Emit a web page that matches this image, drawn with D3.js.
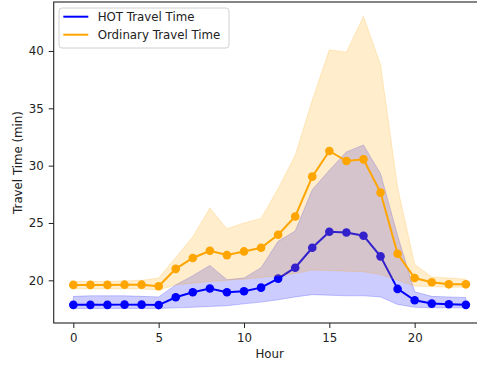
<!DOCTYPE html>
<html>
<head>
<meta charset="utf-8">
<script src="https://cdn.jsdelivr.net/npm/d3@7"></script>
<style>
  body { margin: 0; background: #fff; }
  svg text { font-family: "DejaVu Sans", sans-serif; fill: #222; }
</style>
</head>
<body>
<div id="chart"></div>
<script>
// hourly travel time, mean and min/max band for each lane type
const hours = [0,1,2,3,4,5,6,7,8,9,10,11,12,13,14,15,16,17,18,19,20,21,22,23];
const hotMean = [17.86,17.86,17.86,17.88,17.88,17.84,18.52,18.96,19.28,18.96,19.05,19.36,20.15,21.1,22.84,24.23,24.17,23.89,22.09,19.25,18.26,17.97,17.91,17.86];
const hotMin  = [17.55,17.55,17.55,17.55,17.55,17.55,17.6,17.65,17.72,17.78,17.95,18.1,18.3,18.55,18.75,18.7,18.65,18.65,18.55,17.9,17.65,17.6,17.6,17.6];
const hotMax  = [18.6,18.65,18.65,18.65,18.6,18.55,19.6,20.4,21.3,20.05,20.2,21.1,23.4,24.3,27.9,29.6,31.2,31.8,29.3,23.9,19.0,18.6,18.55,18.5];
const ordMean = [19.6,19.6,19.6,19.62,19.62,19.48,21.0,21.95,22.58,22.2,22.52,22.84,23.97,25.57,29.04,31.28,30.4,30.55,27.65,22.32,20.2,19.83,19.65,19.65];
const ordMin  = [19.25,19.25,19.25,19.25,19.25,19.15,19.6,19.75,19.9,20.0,20.1,20.25,20.4,20.6,20.9,20.85,20.8,20.75,20.5,20.0,19.5,19.45,19.4,19.4];
const ordMax  = [19.9,19.9,19.9,19.95,20.0,20.2,22.0,23.8,26.3,24.5,25.0,25.4,28.0,30.9,35.7,40.1,39.9,43.0,38.8,28.1,21.4,20.3,20.2,20.1];
const xTicks = [0,5,10,15,20];
const yTicks = [20,25,30,35,40];

const series = [
  {name: "HOT Travel Time", color: "blue", mean: hotMean, lo: hotMin, hi: hotMax},
  {name: "Ordinary Travel Time", color: "orange", mean: ordMean, lo: ordMin, hi: ordMax}
];

const W = 477, H = 365;
const m = {left: 53.7, right: 485.5, top: 2, bottom: 323};

const svg = d3.select('#chart').append('svg')
  .attr('width', W).attr('height', H);

// matplotlib style 5% margins
const xExt = d3.extent(hours), xPad = (xExt[1] - xExt[0]) * 0.05;
const allY = hotMin.concat(hotMax, ordMin, ordMax);
const yExt = d3.extent(allY), yPad = (yExt[1] - yExt[0]) * 0.05;

const x = d3.scaleLinear().domain([xExt[0] - xPad, xExt[1] + xPad]).range([m.left, m.right]);
const y = d3.scaleLinear().domain([yExt[0] - yPad, yExt[1] + yPad]).range([m.bottom, m.top]);

const plot = svg.append('g');

series.forEach(s => {
  const line = d3.line().x((d, i) => x(hours[i])).y(d => y(d));
  plot.append('path')
    .datum(s.mean)
    .attr('d', line)
    .attr('fill', 'none')
    .attr('stroke', s.color)
    .attr('stroke-width', 2);
  plot.selectAll(null)
    .data(s.mean)
    .enter().append('circle')
      .attr('cx', (d, i) => x(hours[i]))
      .attr('cy', d => y(d))
      .attr('r', 4.3)
      .attr('fill', s.color);

  const area = d3.area()
    .x((d, i) => x(hours[i]))
    .y0((d, i) => y(s.lo[i]))
    .y1((d, i) => y(s.hi[i]));
  plot.append('path')
    .datum(hours)
    .attr('d', area)
    .attr('fill', s.color)
    .attr('fill-opacity', 0.2)
    .attr('stroke', s.color)
    .attr('stroke-opacity', 0.2)
    .attr('stroke-width', 1);
});

// axes
const xAxis = svg.append('g')
  .attr('transform', `translate(0,${m.bottom})`)
  .call(d3.axisBottom(x).tickValues(xTicks).tickSize(5).tickPadding(5.5));
const yAxis = svg.append('g')
  .attr('transform', `translate(${m.left},0)`)
  .call(d3.axisLeft(y).tickValues(yTicks).tickSize(5).tickPadding(5));
[xAxis, yAxis].forEach(a => {
  a.select('.domain').remove();
  a.selectAll('.tick line').attr('stroke', '#222').attr('stroke-width', 1);
  a.selectAll('.tick text').style('font-size', '11.8px').attr('fill', '#222');
});

// spines
svg.append('rect')
  .attr('x', m.left).attr('y', m.top)
  .attr('width', m.right - m.left).attr('height', m.bottom - m.top)
  .attr('fill', 'none')
  .attr('stroke', '#222')
  .attr('stroke-width', 1.1);

svg.append('text')
  .attr('x', (m.left + m.right) / 2).attr('y', 358)
  .attr('text-anchor', 'middle')
  .style('font-size', '11.8px')
  .text('Hour');

svg.append('text')
  .attr('transform', `translate(22,${(m.top + m.bottom) / 2}) rotate(-90)`)
  .attr('text-anchor', 'middle')
  .style('font-size', '11.8px')
  .text('Travel Time (min)');

// legend
const lg = svg.append('g');
lg.append('rect')
  .attr('x', 59).attr('y', 8)
  .attr('width', 170).attr('height', 40)
  .attr('rx', 3)
  .attr('fill', 'white').attr('fill-opacity', 0.8)
  .attr('stroke', '#d0d0d0');
series.forEach((s, i) => {
  const ly = 16.7 + i * 18;
  lg.append('line')
    .attr('x1', 63.3).attr('x2', 88.3)
    .attr('y1', ly).attr('y2', ly)
    .attr('stroke', s.color).attr('stroke-width', 2);
  lg.append('text')
    .attr('x', 97.7).attr('y', ly + 4.2)
    .style('font-size', '11.8px')
    .text(s.name);
});
</script>
</body>
</html>
